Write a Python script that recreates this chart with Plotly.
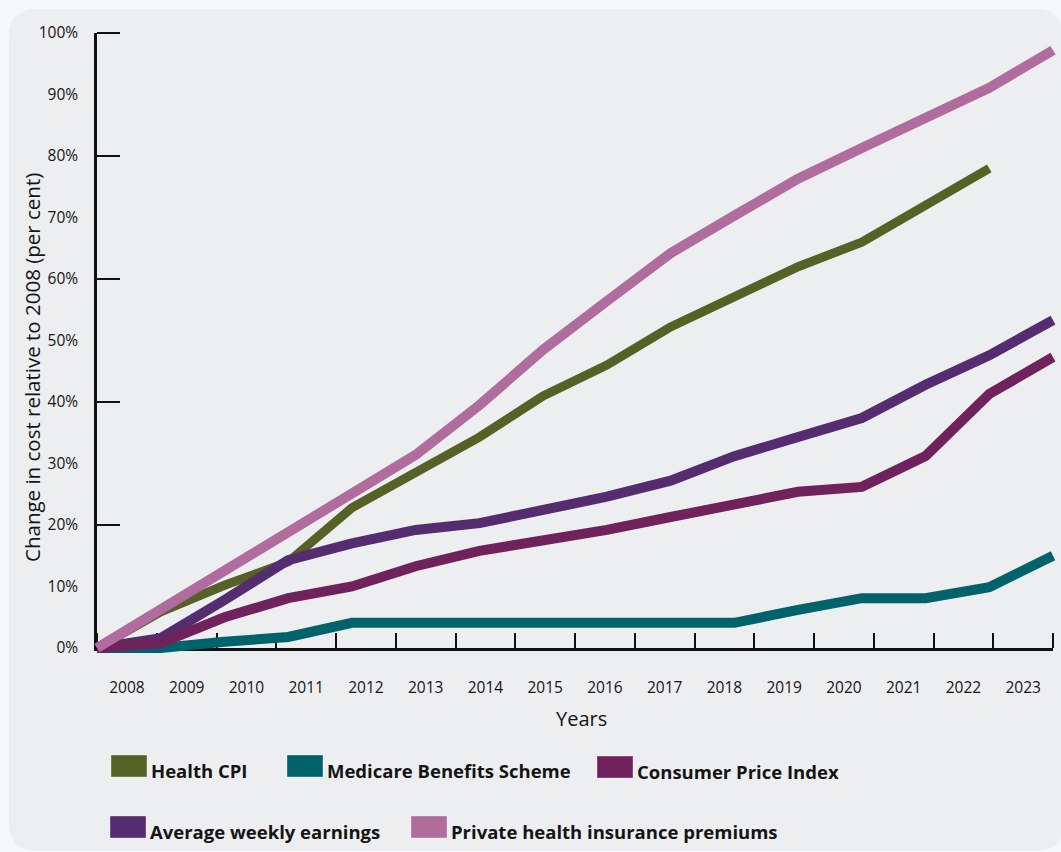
import plotly.graph_objects as go

# ---------------- data ----------------
years = list(range(2008, 2024))
year_labels = [str(y) for y in years]
y_tick_values = list(range(0, 101, 10))
y_tick_labels = [f"{v}%" for v in y_tick_values]
y_major_marks = list(range(0, 101, 20))

series_names = ["Health CPI", "Medicare Benefits Scheme", "Consumer Price Index",
                "Average weekly earnings", "Private health insurance premiums"]
series_colors = ["#566126", "#00636c", "#70225c", "#542c6f", "#b06c9d"]

health_cpi = [0, 5.9, 10.2, 14.0, 22.8, 28.6, 34.3, 41.0, 46.0, 52.2, 57.1, 62.0, 66.0, 72.0, 78.0, None]
medicare = [0, 0, 1.0, 1.8, 4.1, 4.1, 4.1, 4.1, 4.1, 4.1, 4.1, 6.2, 8.1, 8.1, 9.9, 15.0]
cpi = [0, 0.8, 5.0, 8.1, 10.0, 13.3, 15.8, 17.4, 19.2, 21.3, 23.3, 25.4, 26.2, 31.2, 41.3, 47.3]
awe = [0, 1.6, 7.8, 14.3, 17.0, 19.2, 20.3, 22.4, 24.6, 27.2, 31.2, 34.3, 37.4, 42.8, 47.6, 53.3]
phi = [0, 6.3, 12.6, 18.8, 25.0, 31.4, 39.5, 48.5, 56.4, 64.2, 70.3, 76.3, 81.3, 86.2, 91.1, 97.2]
series_values = [health_cpi, medicare, cpi, awe, phi]
draw_order = [0, 1, 3, 2, 4]
line_widths = [9, 10, 10, 10, 10]

# ---------------- layout geometry (pixels) ----------------
W, H = 1061, 852
L, R, T, B = 97, 1053, 33, 648          # axis box
PADL, PADR, PADT, PADB = 20, 8, 25, 20  # extra room so thick lines are not clipped
x0, x1 = years[0], years[-1]
y0, y1 = 0, 100
u = (R - L) / (x1 - x0)
v = (B - T) / (y1 - y0)

def px(x):
    return x / W

def py(y):
    return 1 - y / H

n_bins = len(years)
span = x1 - x0
label_pos = [x0 + span * (k + 0.5) / n_bins for k in range(n_bins)]
tick_pos = [x0 + span * k / n_bins for k in range(n_bins + 1)]

font_main = "'Open Sans', Lato, sans-serif"
txt = "#141414"

fig = go.Figure()

# invisible anchor trace for the axis subplot
fig.add_trace(go.Scatter(x=[x0, x1], y=[y0, y1], mode="markers",
                         marker=dict(opacity=0), hoverinfo="skip",
                         showlegend=False, xaxis="x", yaxis="y"))

for i in draw_order:
    fig.add_trace(go.Scatter(
        x=years, y=series_values[i], name=series_names[i], mode="lines",
        line=dict(color=series_colors[i], width=line_widths[i]),
        connectgaps=False, showlegend=False, xaxis="x2", yaxis="y2"))

axis_common = dict(showgrid=False, zeroline=False, showline=True,
                   linecolor="#111111", linewidth=2.5, automargin=False,
                   tickfont=dict(family=font_main, size=15.5, color=txt))

fig.update_layout(
    width=W, height=H,
    margin=dict(l=0, r=0, t=0, b=0),
    paper_bgcolor="#f7f8fa",
    plot_bgcolor="rgba(0,0,0,0)",
    showlegend=False,
    xaxis=dict(**axis_common, domain=[px(L), px(R)], range=[x0, x1],
               anchor="y", tickmode="array", tickvals=label_pos, ticktext=year_labels,
               ticks="outside", ticklen=24, tickcolor="rgba(0,0,0,0)",
               minor=dict(tickmode="array", tickvals=tick_pos, ticks="inside",
                          ticklen=15, tickwidth=2, tickcolor="#111111", showgrid=False)),
    yaxis=dict(**axis_common, domain=[py(B), py(T)], range=[y0, y1],
               anchor="x", tickmode="array", tickvals=y_tick_values, ticktext=y_tick_labels,
               ticks="outside", ticklen=13, tickcolor="rgba(0,0,0,0)",
               minor=dict(tickmode="array", tickvals=y_major_marks, ticks="inside",
                          ticklen=23, tickwidth=2, tickcolor="#111111", showgrid=False)),
    xaxis2=dict(domain=[px(L - PADL), min(1.0, px(R + PADR))],
                range=[x0 - PADL / u, x0 + (min(W, R + PADR) - L) / u],
                anchor="y2", visible=False, fixedrange=True),
    yaxis2=dict(domain=[py(B + PADB), py(T - PADT)],
                range=[y0 - PADB / v, y1 + PADT / v],
                anchor="x2", visible=False, fixedrange=True),
)

# rounded card background
cx0, cy0, cx1, cy1, r = 9, 9, 1063, 851, 28
path = (f"M {px(cx0 + r)},{py(cy0)} L {px(cx1 - r)},{py(cy0)} "
        f"Q {px(cx1)},{py(cy0)} {px(cx1)},{py(cy0 + r)} "
        f"L {px(cx1)},{py(cy1 - r)} Q {px(cx1)},{py(cy1)} {px(cx1 - r)},{py(cy1)} "
        f"L {px(cx0 + r)},{py(cy1)} Q {px(cx0)},{py(cy1)} {px(cx0)},{py(cy1 - r)} "
        f"L {px(cx0)},{py(cy0 + r)} Q {px(cx0)},{py(cy0)} {px(cx0 + r)},{py(cy0)} Z")
fig.add_shape(type="path", path=path, xref="paper", yref="paper",
              fillcolor="#edeef0", line=dict(width=0), layer="below")

# axis titles
fig.add_annotation(text="Years", x=px(581), y=py(718), xref="paper", yref="paper",
                   showarrow=False, xanchor="center", yanchor="middle",
                   font=dict(family=font_main, size=20, color=txt))
fig.add_annotation(text="Change in cost relative to 2008 (per cent)", textangle=-90,
                   x=px(32), y=py(368), xref="paper", yref="paper",
                   showarrow=False, xanchor="center", yanchor="middle",
                   font=dict(family=font_main, size=20.5, color=txt))

# custom legend (patch + bold label)
legend_slots = [(111, 766), (287, 766), (597, 767), (110, 827), (411, 827)]
for i, (lx, ly) in enumerate(legend_slots):
    fig.add_shape(type="rect", xref="paper", yref="paper",
                  x0=px(lx), x1=px(lx + 36), y0=py(ly + 11), y1=py(ly - 11),
                  fillcolor=series_colors[i], line=dict(width=1, color="rgba(255,255,255,0.35)"))
    fig.add_annotation(text=f"<b>{series_names[i]}</b>", x=px(lx + 38), y=py(ly + 4),
                       xref="paper", yref="paper", showarrow=False,
                       xanchor="left", yanchor="middle",
                       font=dict(family=font_main, size=18.5, color=txt))

fig.write_html("out.html")
